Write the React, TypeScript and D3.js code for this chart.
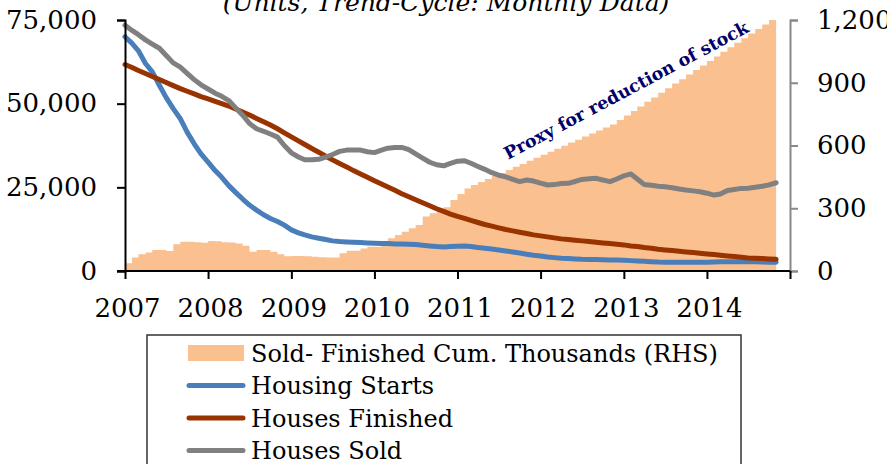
import * as d3 from "d3";
import { useEffect, useRef } from "react";

// monthly, Jan 2007 .. Nov 2014
const startDate = new Date(2007, 0, 1);

// Sold - Finished cumulative, thousands (RHS), one column per month Jan 2007 .. Oct 2014
const soldFinishedCum = [
  37, 64, 80, 89, 100, 100, 96, 128, 140, 140, 137, 135,
  143, 142, 137, 136, 132, 121, 92, 100, 100, 92, 80, 70,
  72, 72, 70, 68, 66, 64, 64, 85, 97, 97, 108, 116,
  116, 140, 156, 172, 188, 204, 220, 260, 276, 292, 305, 340,
  368, 395, 411, 425, 440, 454, 469, 483, 498, 512, 527, 541,
  556, 570, 585, 599, 614, 628, 643, 657, 672, 686, 700, 722,
  744, 765, 787, 809, 830, 852, 874, 896, 917, 939, 961, 983,
  1004, 1026, 1048, 1070, 1091, 1113, 1135, 1157, 1178, 1200,
];

// Jan 2007 .. Nov 2014 (LHS, units)
const housingStarts = [
  70000, 68000, 65800, 62000, 59500, 55500, 51800, 48500, 45500, 41500, 38000, 35000,
  32500, 30000, 28000, 25500, 23500, 21500, 19700, 18200, 16800, 15700, 14800, 13700,
  12300, 11400, 10800, 10200, 9800, 9400, 9000, 8800, 8700, 8600, 8500, 8400,
  8300, 8200, 8200, 8100, 8100, 8000, 7900, 7700, 7500, 7300, 7200, 7300,
  7400, 7500, 7300, 7000, 6800, 6600, 6300, 6000, 5700, 5400, 5000, 4700,
  4500, 4200, 4000, 3800, 3700, 3600, 3500, 3450, 3400, 3350, 3300, 3250,
  3200, 3100, 3000, 2900, 2800, 2700, 2650, 2600, 2600, 2600, 2600, 2600,
  2650, 2700, 2750, 2800, 2800, 2800, 2800, 2750, 2700, 2650, 2600,
];

const housesFinished = [
  61700, 60800, 59900, 59000, 58100, 57200, 56300, 55400, 54500, 53700, 52900, 52100,
  51400, 50700, 50000, 49300, 48400, 47500, 46600, 45600, 44600, 43600, 42500, 41300,
  40100, 38900, 37800, 36600, 35500, 34300, 33200, 32100, 31100, 30000, 29000, 28000,
  27000, 26000, 25100, 24100, 23100, 22200, 21300, 20400, 19500, 18600, 17800, 17000,
  16300, 15700, 15100, 14500, 13900, 13400, 12900, 12400, 12000, 11600, 11200, 10800,
  10500, 10200, 9900, 9600, 9400, 9200, 9000, 8800, 8600, 8400, 8200, 8000,
  7800, 7500, 7300, 7000, 6800, 6500, 6300, 6100, 5900, 5700, 5500, 5300,
  5100, 4900, 4700, 4500, 4300, 4100, 3900, 3800, 3700, 3600, 3500,
];

// RHS, thousands
const housesSold = [
  1175, 1150, 1130, 1105, 1085, 1065, 1030, 995, 975, 945, 915, 890,
  870, 850, 835, 815, 780, 745, 705, 680, 668, 655, 640, 600,
  565, 545, 532, 532, 534, 545, 557, 572, 578, 578, 578, 570,
  566, 578, 587, 590, 591, 580, 560, 540, 520, 508, 503, 515,
  525, 527, 515, 500, 486, 470, 458, 450, 438, 427, 435, 430,
  420, 411, 413, 418, 419, 428, 438, 441, 443, 435, 427, 440,
  455, 464, 440, 413, 410, 405, 403, 398, 392, 387, 383, 379,
  372, 363, 368, 385, 390, 395, 396, 400, 405, 412, 422,
];

const leftTicks = [0, 25000, 50000, 75000];
const rightTicks = [0, 300, 600, 900, 1200];
const years = [2007, 2008, 2009, 2010, 2011, 2012, 2013, 2014, 2015];
const yearLabels = ["2007", "2008", "2009", "2010", "2011", "2012", "2013", "2014"];

const legendItems = [
  { label: "Sold- Finished Cum. Thousands (RHS)", kind: "area", color: "#fac090" },
  { label: "Housing Starts", kind: "line", color: "#4a7ebb" },
  { label: "Houses Finished", kind: "line", color: "#993300" },
  { label: "Houses Sold", kind: "line", color: "#808080" },
];

const FONT = "'DejaVu Serif', serif";

export default function App() {
  const ref = useRef<SVGSVGElement>(null);

  useEffect(() => {
    if (!ref.current) return;
    const svg = d3.select(ref.current);
    svg.selectAll("*").remove();

    const plot = { left: 125, right: 790, top: 20, bottom: 271 };
    const month = (i: number) => d3.timeMonth.offset(startDate, i);

    const x = d3
      .scaleTime()
      .domain([new Date(2007, 0, 1), new Date(2015, 0, 1)])
      .range([plot.left, plot.right]);
    const yL = d3.scaleLinear().domain([0, 75000]).range([plot.bottom, plot.top]);
    const yR = d3.scaleLinear().domain([0, 1200]).range([plot.bottom, plot.top]);

    // title (cut at the top in the original)
    svg
      .append("text")
      .attr("x", 446)
      .attr("y", 11)
      .attr("text-anchor", "middle")
      .attr("font-family", FONT)
      .attr("font-style", "italic")
      .attr("font-size", 25)
      .text("(Units, Trend-Cycle: Monthly Data)");

    // cumulative columns, drawn as one stepped area so no seams show between months
    const stepped = [...soldFinishedCum, soldFinishedCum[soldFinishedCum.length - 1]];
    const area = d3
      .area<number>()
      .curve(d3.curveStepAfter)
      .x((_, i) => x(month(i)))
      .y0(yR(0))
      .y1((d) => yR(d));
    svg.append("path").attr("d", area(stepped)!).attr("fill", "#fac090");

    const lineL = d3
      .line<number>()
      .x((_, i) => x(month(i)))
      .y((d) => yL(d));
    const lineR = d3
      .line<number>()
      .x((_, i) => x(month(i)))
      .y((d) => yR(d));

    const series = [
      { data: housingStarts, path: lineL, color: "#4a7ebb" },
      { data: housesFinished, path: lineL, color: "#993300" },
      { data: housesSold, path: lineR, color: "#808080" },
    ];
    series.forEach((s) => {
      svg
        .append("path")
        .attr("d", s.path(s.data)!)
        .attr("fill", "none")
        .attr("stroke", s.color)
        .attr("stroke-width", 5)
        .attr("stroke-linejoin", "round")
        .attr("stroke-linecap", "round");
    });

    // left axis
    const gL = svg.append("g").attr("transform", `translate(${plot.left},0)`);
    gL.call(d3.axisLeft(yL).tickValues(leftTicks).tickSize(8).tickPadding(20).tickFormat(d3.format(",")));
    gL.select(".domain").attr("stroke", "#000").attr("stroke-width", 2);
    gL.selectAll(".tick line").attr("stroke", "#000").attr("stroke-width", 2);
    gL.selectAll(".tick text")
      .attr("font-family", FONT)
      .attr("font-size", 26)
      .attr("fill", "#000");

    // right axis
    const gR = svg.append("g").attr("transform", `translate(${plot.right},0)`);
    gR.call(d3.axisRight(yR).tickValues(rightTicks).tickSize(8).tickPadding(19).tickFormat(d3.format(",")));
    gR.select(".domain").attr("stroke", "#888").attr("stroke-width", 2);
    gR.selectAll(".tick line").attr("stroke", "#888").attr("stroke-width", 2);
    gR.selectAll(".tick text")
      .attr("font-family", FONT)
      .attr("font-size", 26)
      .attr("fill", "#000");

    // x axis
    const gX = svg.append("g").attr("transform", `translate(0,${plot.bottom})`);
    gX.call(
      d3
        .axisBottom(x)
        .tickValues(years.map((y) => new Date(y, 0, 1)))
        .tickSize(8)
        .tickPadding(20)
        .tickFormat((d, i) => yearLabels[i] ?? "")
    );
    gX.select(".domain").attr("stroke", "#000").attr("stroke-width", 2).attr("d", `M${plot.left - 8},0H${plot.right}`);
    gX.selectAll(".tick line").attr("stroke", "#000").attr("stroke-width", 2);
    gX.selectAll(".tick text")
      .attr("font-family", FONT)
      .attr("font-size", 26)
      .attr("fill", "#000")
      .attr("dx", 2);

    // annotation
    svg
      .append("text")
      .attr("transform", "translate(508,160) rotate(-28)")
      .attr("font-family", FONT)
      .attr("font-weight", "bold")
      .attr("font-size", 17.5)
      .attr("fill", "#00006b")
      .text("Proxy for reduction of stock");

    // legend
    const lg = svg.append("g");
    lg.append("rect")
      .attr("x", 147)
      .attr("y", 335)
      .attr("width", 594)
      .attr("height", 150)
      .attr("fill", "#fff")
      .attr("stroke", "#333")
      .attr("stroke-width", 1.5);
    legendItems.forEach((item, i) => {
      const cy = 353 + i * 32.5;
      if (item.kind === "area") {
        lg.append("rect").attr("x", 188).attr("y", cy - 8).attr("width", 56).attr("height", 16).attr("fill", item.color);
      } else {
        lg.append("line")
          .attr("x1", 189)
          .attr("x2", 243)
          .attr("y1", cy)
          .attr("y2", cy)
          .attr("stroke", item.color)
          .attr("stroke-width", 5)
          .attr("stroke-linecap", "round");
      }
      lg.append("text")
        .attr("x", 251)
        .attr("y", cy)
        .attr("dy", "0.36em")
        .attr("font-family", FONT)
        .attr("font-size", 24)
        .attr("fill", "#000")
        .text(item.label);
    });
  }, []);

  return (
    <svg
      ref={ref}
      width={887}
      height={464}
      style={{ position: "absolute", left: 0, top: 0, background: "#fff" }}
    />
  );
}
